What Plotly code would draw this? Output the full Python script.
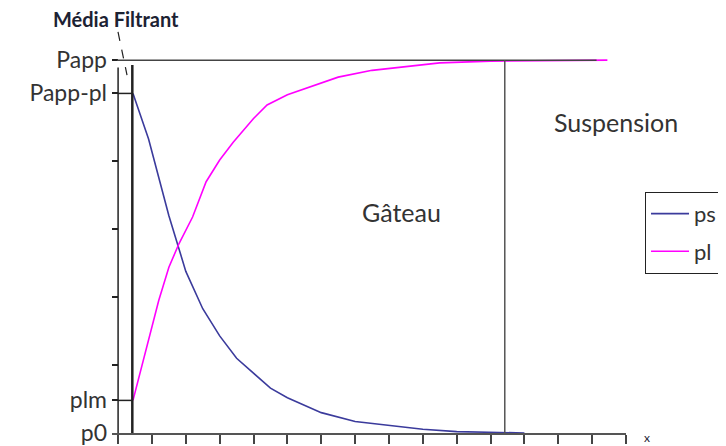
import plotly.graph_objects as go

# ---- data ----
ps_x = [0.44, 0.9, 1.5, 2.0, 2.5, 3.0, 3.5, 4.0, 4.5, 5.0, 6.0, 7.0, 8.0, 9.0, 10.0, 11.0, 12.0]
ps_y = [5.0, 4.33, 3.2, 2.38, 1.83, 1.43, 1.10, 0.88, 0.66, 0.52, 0.30, 0.17, 0.11, 0.055, 0.02, 0.005, 0.0]

pl_x = [0.44, 0.8, 1.2, 1.5, 1.8, 2.2, 2.6, 3.0, 3.4, 4.0, 4.4, 5.0, 5.5, 6.5, 7.5, 8.5, 9.5, 11.0, 12.0, 13.0, 14.45]
pl_y = [0.48, 1.17, 1.95, 2.44, 2.79, 3.18, 3.70, 4.02, 4.28, 4.63, 4.83, 4.98, 5.07, 5.24, 5.34, 5.40, 5.45, 5.475, 5.48, 5.485, 5.49]

P_APP = 5.49
P_APP_PL = 5.0
P_LM = 0.48
P0 = 0.0
MEDIA_X = 0.42
CAKE_END_X = 11.42

y_tickvals = [P0, P_LM, 1, 2, 3, 4, P_APP_PL, P_APP]
y_ticktext = ["p0", "plm", "", "", "", "", "Papp-pl", "Papp"]
x_tickvals = list(range(0, 16))

FONT = "Lato, 'Open Sans', sans-serif"

fig = go.Figure()
fig.add_trace(go.Scatter(x=ps_x, y=ps_y, mode="lines", name="ps",
                         line=dict(color="#3b3b9c", width=1.6), legendgroup="a"))
fig.add_trace(go.Scatter(x=pl_x, y=pl_y, mode="lines", name="pl",
                         line=dict(color="#ff00ff", width=1.6), legendgroup="b"))

shapes = [
    # left axis line
    dict(type="line", xref="x", yref="y", x0=0, x1=0, y0=0, y1=5.38,
         line=dict(color="#222", width=1.5)),
    # filter media line
    dict(type="line", xref="x", yref="y", x0=MEDIA_X, x1=MEDIA_X, y0=0, y1=5.42,
         line=dict(color="#222", width=2.5)),
    # Papp horizontal
    dict(type="line", xref="x", yref="y", x0=-0.03, x1=14.13, y0=P_APP, y1=P_APP,
         line=dict(color="#444", width=1.5)),
    # Papp-pl and plm small segments
    dict(type="line", xref="x", yref="y", x0=0, x1=MEDIA_X, y0=P_APP_PL, y1=P_APP_PL,
         line=dict(color="#222", width=1.5)),
    dict(type="line", xref="x", yref="y", x0=0, x1=MEDIA_X, y0=P_LM, y1=P_LM,
         line=dict(color="#222", width=1.5)),
    # cake / suspension boundary
    dict(type="line", xref="x", yref="y", x0=CAKE_END_X, x1=CAKE_END_X, y0=0, y1=P_APP,
         line=dict(color="#555", width=1.5)),
    # pointer from "Média Filtrant"
    dict(type="line", xref="paper", yref="paper", x0=0.0117, x1=0.0292, y0=1.0525, y1=0.9396,
         line=dict(color="#222", width=1.2, dash="dash")),
]

annotations = [
    dict(text="<b>Média Filtrant</b>", xref="paper", yref="paper", x=0.008, y=1.086,
         showarrow=False, xanchor="center", yanchor="middle",
         font=dict(family=FONT, size=20, color="#1c2233")),
    dict(text="Gâteau", xref="paper", yref="paper", x=0.564, y=0.580,
         showarrow=False, xanchor="center", yanchor="middle",
         font=dict(family=FONT, size=25, color="#333")),
    dict(text="Suspension", xref="paper", yref="paper", x=0.981, y=0.816,
         showarrow=False, xanchor="center", yanchor="middle",
         font=dict(family=FONT, size=25, color="#333")),
    dict(text="x", xref="paper", yref="paper", x=1.041, y=-0.0105,
         showarrow=False, xanchor="center", yanchor="middle",
         font=dict(family=FONT, size=12, color="#223")),
]

# the page body adds an 8px offset; margins compensate so the plot area
# lands at x 118..626 / y 60..433 in the window
fig.update_layout(
    width=726, height=446,
    margin=dict(l=104, r=108, t=44, b=21, autoexpand=False),
    paper_bgcolor="white", plot_bgcolor="white",
    font=dict(family=FONT, color="#333"),
    shapes=shapes, annotations=annotations,
    showlegend=True,
    legend=dict(x=1.037, y=0.633, xanchor="left", yanchor="top",
                bordercolor="#222", borderwidth=1, bgcolor="white",
                font=dict(family=FONT, size=22, color="#333"),
                itemwidth=38,
                traceorder="grouped", tracegroupgap=6),
    xaxis=dict(range=[-0.18, 15], showgrid=False, zeroline=False,
               showline=True, linecolor="#555", linewidth=2,
               ticks="outside", ticklen=9, tickwidth=2, tickcolor="#444",
               tickvals=x_tickvals, showticklabels=False, fixedrange=True),
    yaxis=dict(range=[0, 5.61], showgrid=False, zeroline=False, showline=False,
               ticks="inside", ticklen=6, tickwidth=1.5, tickcolor="#222",
               tickvals=y_tickvals, ticktext=y_ticktext, ticklabelstandoff=4,
               tickfont=dict(family=FONT, size=23, color="#333"), fixedrange=True),
)

fig.write_html("out.html")
